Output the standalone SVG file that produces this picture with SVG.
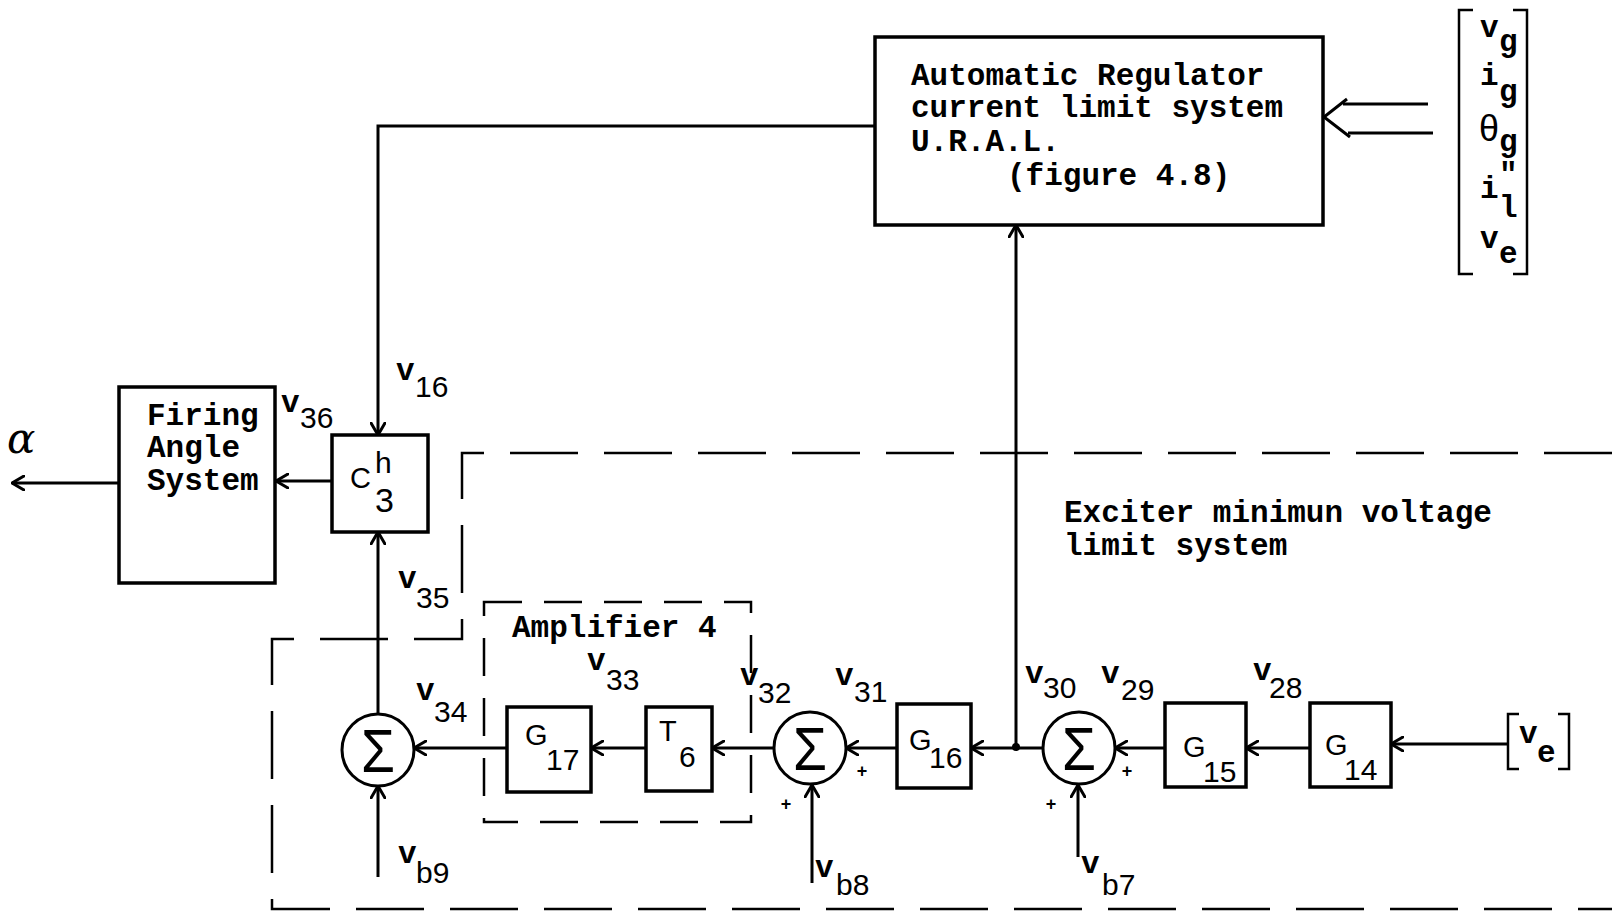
<svg xmlns="http://www.w3.org/2000/svg" width="1612" height="912" viewBox="0 0 1612 912">
<defs>
<marker id="arr" viewBox="0 0 14 16" refX="13" refY="8" markerWidth="14" markerHeight="16" markerUnits="userSpaceOnUse" orient="auto">
<path d="M1,1 L13,8 L1,15" fill="none" stroke="#000" stroke-width="3" stroke-linecap="round" stroke-linejoin="round"/>
</marker>
<style>
.box{fill:none;stroke:#000;stroke-width:3.5}
.ln{fill:none;stroke:#000;stroke-width:3}
.thin{fill:none;stroke:#000;stroke-width:2.5}
.dash{fill:none;stroke:#000;stroke-width:2.5;stroke-dasharray:68 26}
.dash2{fill:none;stroke:#000;stroke-width:2.5;stroke-dasharray:38 22}
.tw{font-family:"Liberation Mono","Courier New",monospace;font-weight:bold;font-size:31px;fill:#000}
.tp{font-family:"Liberation Sans",Arial,sans-serif;font-size:30px;fill:#000}
.gl{font-family:"Liberation Sans",Arial,sans-serif;font-size:29px;fill:#000}
.pl{font-family:"Liberation Sans",Arial,sans-serif;font-weight:bold;font-size:18px;fill:#000;text-anchor:middle}
.sg{font-family:"Liberation Sans",Arial,sans-serif;font-size:62px;fill:#000;text-anchor:middle}
</style>
</defs>
<rect width="1612" height="912" fill="#fff"/>

<g id="boundaries">
<path class="dash" d="M1612,453 L462,453 L462,639 L272,639 L272,909 L1612,909"/>
<rect id="amplifier4" class="dash2" x="484" y="602" width="267" height="220"/>
<text class="tw" x="512" y="637">Amplifier 4</text>
<text class="tw" x="1064" y="522">Exciter minimun voltage</text>
<text class="tw" x="1064" y="555">limit system</text>
</g>

<g id="connectors">
<polyline class="ln" points="875,126 378,126 378,435" marker-end="url(#arr)"/>
<line class="ln" x1="332" y1="481" x2="276" y2="481" marker-end="url(#arr)"/>
<line class="ln" x1="119" y1="483" x2="12" y2="483" marker-end="url(#arr)"/>
<line class="ln" x1="378" y1="714" x2="378" y2="532" marker-end="url(#arr)"/>
<line class="ln" x1="378" y1="877" x2="378" y2="786" marker-end="url(#arr)"/>
<line class="ln" x1="507" y1="748" x2="414" y2="748" marker-end="url(#arr)"/>
<line class="ln" x1="646" y1="748" x2="591" y2="748" marker-end="url(#arr)"/>
<line class="ln" x1="774" y1="748" x2="712" y2="748" marker-end="url(#arr)"/>
<line class="ln" x1="897" y1="748" x2="846" y2="748" marker-end="url(#arr)"/>
<line class="ln" x1="1043" y1="748" x2="971" y2="748" marker-end="url(#arr)"/>
<line class="ln" x1="1165" y1="748" x2="1115" y2="748" marker-end="url(#arr)"/>
<line class="ln" x1="1310" y1="748" x2="1246" y2="748" marker-end="url(#arr)"/>
<line class="ln" x1="1508" y1="744" x2="1391" y2="744" marker-end="url(#arr)"/>
<line class="ln" x1="812" y1="883" x2="812" y2="785" marker-end="url(#arr)"/>
<line class="ln" x1="1078" y1="857" x2="1078" y2="785" marker-end="url(#arr)"/>
<line class="ln" x1="1016" y1="748" x2="1016" y2="225" marker-end="url(#arr)"/>
<circle cx="1016" cy="747" r="4" fill="#000"/>
<line class="ln" x1="1343" y1="104" x2="1428" y2="104"/>
<line class="ln" x1="1348" y1="133" x2="1433" y2="133"/>
<polyline class="ln" points="1347,99 1324,117 1350,137"/>
</g>

<g id="regulator">
<rect class="box" x="875" y="37" width="448" height="188"/>
<text class="tw" x="911" y="85">Automatic Regulator</text>
<text class="tw" x="911" y="117">current limit system</text>
<text class="tw" x="911" y="151">U.R.A.L.</text>
<text class="tw" x="1007" y="185">(figure 4.8)</text>
</g>

<g id="inputs-vector">
<polyline class="thin" points="1473,10 1459,10 1459,274 1473,274"/>
<polyline class="thin" points="1513,10 1527,10 1527,274 1513,274"/>
<text class="tw" x="1480" y="37">v</text><text class="tw" x="1499" y="51">g</text>
<text class="tw" x="1480" y="85">i</text><text class="tw" x="1499" y="101">g</text>
<text class="tp" x="1479" y="141" style="font-size:36px">θ</text><text class="tw" x="1499" y="151">g</text>
<text class="tw" x="1499" y="184">"</text>
<text class="tw" x="1480" y="198">i</text><text class="tw" x="1499" y="217">l</text>
<text class="tw" x="1480" y="248">v</text><text class="tw" x="1499" y="263">e</text>
</g>

<g id="firing-angle">
<rect class="box" x="119" y="387" width="156" height="196"/>
<text class="tw" x="147" y="425">Firing</text>
<text class="tw" x="147" y="457">Angle</text>
<text class="tw" x="147" y="490">System</text>
</g>
<text id="alpha" x="7" y="453" style="font-family:'DejaVu Serif','Liberation Serif',serif;font-style:italic;font-size:42px">α</text>

<g id="c3h">
<rect class="box" x="332" y="435" width="96" height="97"/>
<text class="gl" x="350" y="488">C</text>
<text class="tp" x="375" y="473">h</text>
<text class="tp" x="375" y="512" style="font-size:34px">3</text>
</g>

<g id="sum1">
<circle class="ln" cx="378" cy="750" r="36"/>
<text class="sg" x="378" y="772" textLength="34" lengthAdjust="spacingAndGlyphs">Σ</text>
</g>
<g id="g17">
<rect class="box" x="507" y="707" width="84" height="85"/>
<text class="gl" x="525" y="745">G</text>
<text class="tp" x="546" y="770">17</text>
</g>
<g id="t6">
<rect class="box" x="646" y="707" width="66" height="84"/>
<text class="gl" x="659" y="741">T</text>
<text class="tp" x="679" y="767">6</text>
</g>
<g id="sum2">
<circle class="ln" cx="810" cy="748" r="36"/>
<text class="sg" x="810" y="770" textLength="34" lengthAdjust="spacingAndGlyphs">Σ</text>
<text class="pl" x="862" y="777">+</text>
<text class="pl" x="786" y="810">+</text>
</g>
<g id="g16">
<rect class="box" x="897" y="704" width="74" height="84"/>
<text class="gl" x="909" y="750">G</text>
<text class="tp" x="929" y="768">16</text>
</g>
<g id="sum3">
<circle class="ln" cx="1079" cy="748" r="36"/>
<text class="sg" x="1079" y="770" textLength="34" lengthAdjust="spacingAndGlyphs">Σ</text>
<text class="pl" x="1127" y="777">+</text>
<text class="pl" x="1051" y="810">+</text>
</g>
<g id="g15">
<rect class="box" x="1165" y="703" width="81" height="84"/>
<text class="gl" x="1183" y="757">G</text>
<text class="tp" x="1203" y="782">15</text>
</g>
<g id="g14">
<rect class="box" x="1310" y="703" width="81" height="84"/>
<text class="gl" x="1325" y="755">G</text>
<text class="tp" x="1344" y="780">14</text>
</g>
<g id="ve-input">
<polyline class="thin" points="1519,714 1508,714 1508,769 1519,769"/>
<polyline class="thin" points="1558,714 1569,714 1569,769 1558,769"/>
<text class="tw" x="1519" y="743">v</text><text class="tw" x="1537" y="762">e</text>
</g>

<g id="labels">
<text class="tw" x="396" y="380">v</text><text class="tp" x="415" y="397">16</text>
<text class="tw" x="281" y="412">v</text><text class="tp" x="300" y="428">36</text>
<text class="tw" x="398" y="588">v</text><text class="tp" x="416" y="608">35</text>
<text class="tw" x="416" y="700">v</text><text class="tp" x="434" y="722">34</text>
<text class="tw" x="587" y="670">v</text><text class="tp" x="606" y="690">33</text>
<text class="tw" x="740" y="685">v</text><text class="tp" x="758" y="703">32</text>
<text class="tw" x="835" y="685">v</text><text class="tp" x="854" y="702">31</text>
<text class="tw" x="1025" y="683">v</text><text class="tp" x="1043" y="698">30</text>
<text class="tw" x="1101" y="683">v</text><text class="tp" x="1121" y="700">29</text>
<text class="tw" x="1253" y="680">v</text><text class="tp" x="1269" y="698">28</text>
<text class="tw" x="398" y="863">v</text><text class="tp" x="416" y="883">b9</text>
<text class="tw" x="815" y="877">v</text><text class="tp" x="836" y="895">b8</text>
<text class="tw" x="1081" y="873">v</text><text class="tp" x="1102" y="895">b7</text>
</g>
</svg>
